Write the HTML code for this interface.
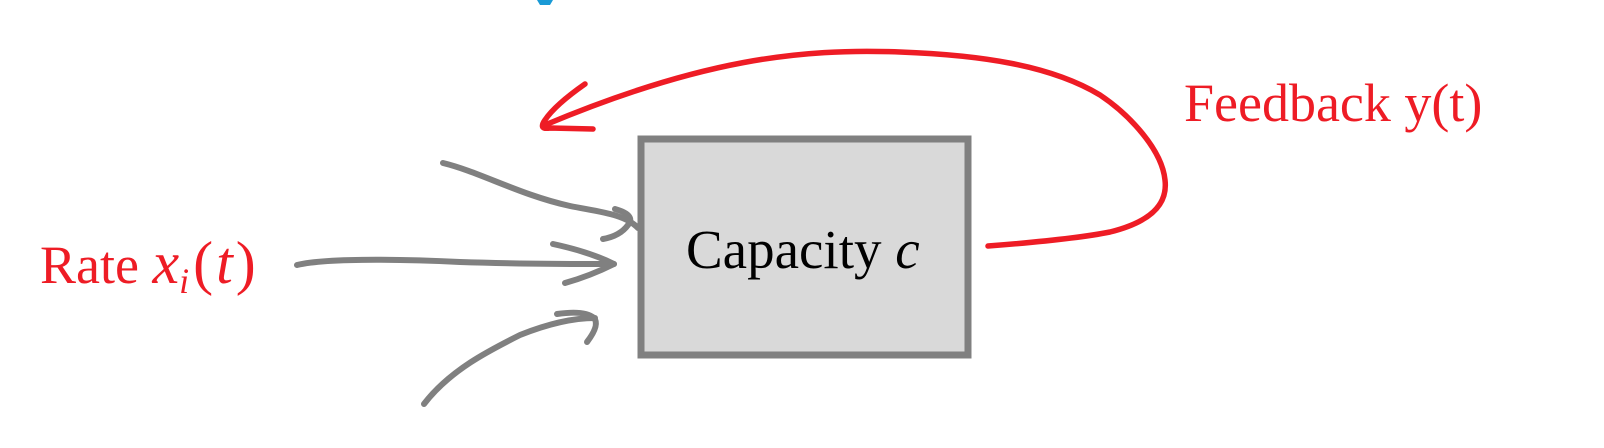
<!DOCTYPE html>
<html><head><meta charset="utf-8"><style>
html,body{margin:0;padding:0;background:#fff;width:1604px;height:448px;overflow:hidden}
svg{display:block}
text{font-family:"Liberation Serif",serif}
</style></head><body>
<svg width="1604" height="448" viewBox="0 0 1604 448">
  <path d="M537,0 L553,0 L550,5 L540,5 Z" fill="#1a9ad6"/>
  <g fill="none" stroke="#808080" stroke-width="6" stroke-linecap="round" stroke-linejoin="round">
    <path d="M443,163 C480,172 520,195 570,206 C600,212 625,214 638,228"/>
    <path d="M615,209 Q636,215 628,225 Q620,236 603,239"/>
    <path d="M297,265 C330,257 420,260 460,262 C520,264 570,264 614,264"/>
    <path d="M553,244 Q590,252 614,264 Q590,276 565,283"/>
    <path d="M424,404 C450,370 490,350 520,335 C545,325 570,318 595,318"/>
    <path d="M557,314 Q585,310 594,318 Q600,325 587,342"/>
  </g>
  <rect x="641" y="139" width="327" height="216" fill="#d9d9d9" stroke="#808080" stroke-width="7"/>
  <text x="686" y="268" font-size="55" fill="#000">Capacity <tspan font-style="italic">c</tspan></text>
  <text x="40" y="283" font-size="54" fill="#ee1c25">Rate <tspan font-style="italic" font-size="60">x</tspan><tspan font-style="italic" font-size="36" dy="10">i</tspan><tspan dy="-10" font-size="60" dx="4">(</tspan><tspan font-style="italic" font-size="60" dx="3">t</tspan><tspan font-size="60" dx="3">)</tspan></text>
  <g fill="none" stroke="#ee1c25" stroke-width="5.5" stroke-linecap="round" stroke-linejoin="round">
    <path d="M988,246 C1040,242 1080,238 1110,232 C1150,222 1168,205 1165,180 C1162,150 1130,115 1100,95 C1050,65 980,55 900,52 C800,48 700,60 545,125"/>
    <path d="M585,84 Q555,105 545,120 Q538,130 550,128 L593,129"/>
  </g>
  <text x="1184" y="121" font-size="54" fill="#ee1c25">Feedback y(t)</text>
</svg>
</body></html>
